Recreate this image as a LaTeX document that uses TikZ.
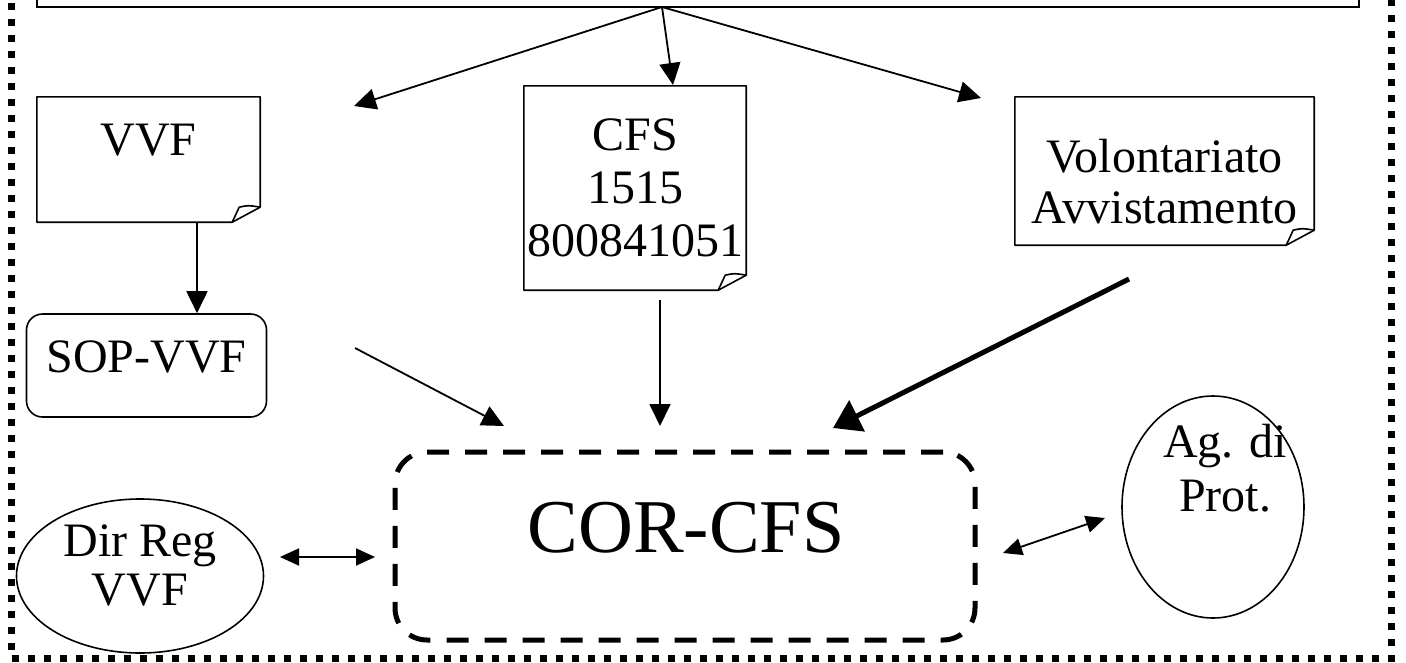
\documentclass[tikz,border=0pt]{standalone}
\usepackage{fontspec}
\setmainfont{Liberation Serif}
\usetikzlibrary{arrows.meta,shapes.geometric}
\tikzset{
  box/.style={rectangle, draw=none, inner sep=0pt},
  txt/.style={inner sep=0pt, anchor=base, font=\fontsize{48}{53}\selectfont},
  big/.style={inner sep=0pt, anchor=base, font=\fontsize{76}{84}\selectfont},
  thin/.style={line width=1.6pt},
  arr/.style={line width=1.8pt, -{Triangle[length=22pt,width=21pt]}},
  thickarr/.style={line width=5pt, -{Triangle[length=27pt,width=34pt]}},
  darr/.style={line width=1.8pt, {Triangle[length=19pt,width=17pt]}-{Triangle[length=19pt,width=17pt]}},
}
\newcommand\foldnote[1]{%
  \draw[thin, line join=round] (#1.north west) -- (#1.north east) -- ([yshift=15pt]#1.south east)
     -- ([xshift=-28pt]#1.south east) -- (#1.south west) -- cycle;
  \draw[thin, line join=round] ([xshift=-28pt]#1.south east) -- ([xshift=-21pt,yshift=15pt]#1.south east)
     .. controls ([xshift=-12pt,yshift=17pt]#1.south east) .. ([yshift=15pt]#1.south east);
}
\begin{document}
\begin{tikzpicture}[x=1pt,y=-1pt]
\useasboundingbox (0,0) rectangle (1406,662);
\clip (0,0) rectangle (1406,662);
% outer dotted frame
\draw[line width=7pt, dash pattern=on 7pt off 9pt] (11.5,-45) -- (11.5,658.5) -- (1391.5,658.5) -- (1391.5,-45);
% top box
\node[box, draw, line width=2pt, minimum width=1322pt, minimum height=60pt] (top) at (698,-23) {};
\coordinate (src) at (662,7);
% notes
\node[box, minimum width=223pt, minimum height=125pt] (vvf) at (148.5,159.5) {};
\foldnote{vvf}
\node[txt] at (148.5,155) {VVF};
\node[box, minimum width=222pt, minimum height=204pt] (cfs) at (635,188) {};
\foldnote{cfs}
\node[txt] at (635,150) {CFS};
\node[txt] at (635,203) {1515};
\node[txt] at (635,256) {800841051};
\node[box, minimum width=299pt, minimum height=148pt] (vol) at (1164.5,171) {};
\foldnote{vol}
\node[txt] at (1164.5,172) {Volontariato};
\node[txt] at (1164.5,223) {Avvistamento};
% SOP-VVF
\node[box, draw, thin, rounded corners=16pt, minimum width=240pt, minimum height=103pt] (sop) at (146.5,365.5) {};
\node[txt] at (146.5,372) {SOP-VVF};
% COR-CFS
\node[box, draw, line width=5pt, dash pattern=on 22pt off 16pt, rounded corners=32pt, minimum width=580pt, minimum height=188pt] (cor) at (685,546) {};
\node[big] at (686,552) {COR-CFS};
% ellipses
\node[ellipse, draw, thin, minimum width=247pt, minimum height=154pt, inner sep=0pt] (dir) at (140,576) {};
\node[txt] at (140,556) {Dir Reg};
\node[txt] at (140,605) {VVF};
\node[ellipse, draw, thin, minimum width=182pt, minimum height=222pt, inner sep=0pt] (ag) at (1213,507) {};
\node[txt] at (1225,457) {Ag. di};
\node[txt] at (1225,511) {Prot.};
% arrow ends
\coordinate (t1) at (354,106);
\coordinate (t2) at (673,85);
\coordinate (t3) at (981,98);
\coordinate (s1) at (355,348);
\coordinate (e1) at (504,426);
\coordinate (s2) at (660,300);
\coordinate (e2) at (660,426);
\coordinate (s3) at (1129,279);
\coordinate (e3) at (833,428);
\coordinate (d1) at (280,557);
\coordinate (d2) at (375,557);
\coordinate (a1) at (1003,553);
\coordinate (a2) at (1105,518);
% connectors
\draw[arr] (src) -- (t1);
\draw[arr] (src) -- (t2);
\draw[arr] (src) -- (t3);
\draw[arr] ([xshift=48.5pt]vvf.south) -- ([xshift=50.5pt]sop.north);
\draw[arr] (s1) -- (e1);
\draw[arr] (s2) -- (e2);
\draw[thickarr] (s3) -- (e3);
\draw[darr] (d1) -- (d2);
\draw[darr] (a1) -- (a2);
\end{tikzpicture}
\end{document}
